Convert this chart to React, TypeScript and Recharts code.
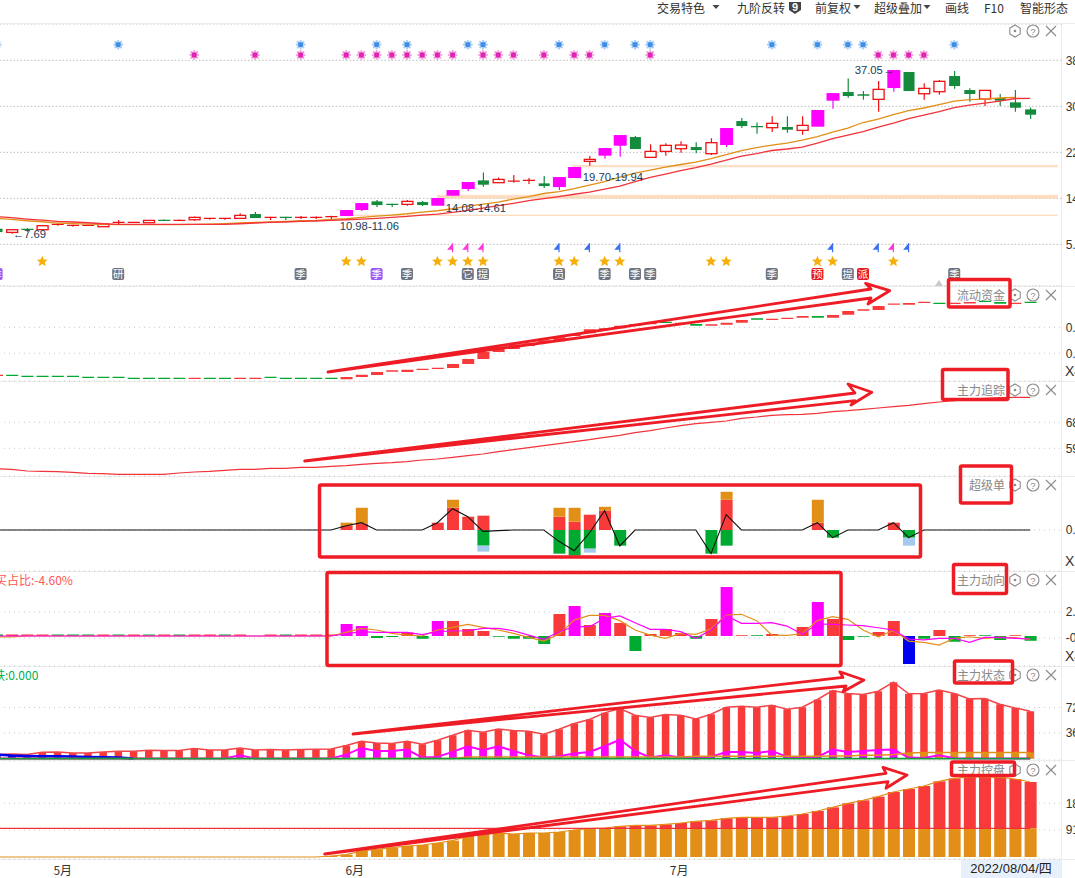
import React from 'react'
import { ComposedChart, Bar, Line, XAxis, YAxis, CartesianGrid, Cell, ReferenceArea, ReferenceDot } from 'recharts'

// price panel
const candleOpen = [8.61,7.95,8.49,8.43,9.27,9.15,9.15,8.97,9.62,9.68,9.68,10.10,10.04,10.22,10.40,10.40,10.46,11.24,10.58,10.64,10.58,10.58,10.70,10.88,11.96,13.51,12.97,12.97,13.39,12.73,14.53,15.72,17.27,16.86,17.03,17.15,16.74,16.08,17.69,20.68,21.70,23.49,25.04,21.40,22.47,22.95,23.25,22.06,23.61,27.91,26.90,26.72,26.84,26.24,26.90,31.56,33.11,32.58,31.80,33.83,36.70,32.81,33.17,35.98,33.47,31.86,32.04,31.26,30.00]
const candleClose = [8.01,8.43,8.37,9.15,9.39,9.21,9.21,9.45,9.74,9.74,10.10,10.04,10.10,10.64,10.46,10.46,11.00,10.52,10.64,10.58,10.64,10.64,10.76,11.96,13.21,12.85,12.91,13.51,12.85,14.11,15.54,16.98,16.50,17.45,17.15,17.27,16.26,17.87,19.67,21.04,23.07,25.40,22.89,22.47,23.55,23.61,22.71,24.03,26.66,27.02,26.78,27.50,26.36,27.14,29.89,32.93,32.40,32.46,33.59,37.06,33.29,33.77,35.03,34.19,32.76,33.41,31.56,30.30,29.05]
const candleHigh = [8.73,8.43,8.73,9.15,9.56,9.33,9.27,9.45,10.16,9.74,10.10,10.28,10.28,10.82,10.52,10.52,11.36,11.60,10.76,10.76,10.88,10.82,10.94,11.96,13.21,13.75,13.09,13.75,13.57,14.11,15.54,16.98,18.71,17.81,18.23,17.69,18.05,17.87,19.67,21.64,23.07,25.40,25.22,23.73,23.91,24.27,24.09,24.81,26.66,28.45,27.67,28.75,28.75,28.75,29.89,32.93,35.56,33.29,35.09,37.06,36.70,34.67,35.27,36.88,33.77,33.41,32.76,33.47,30.36]
const candleLow = [7.89,7.69,8.07,8.43,9.15,8.97,9.09,8.97,9.45,9.68,9.68,9.98,9.98,10.04,10.22,10.16,10.34,10.52,10.16,10.16,10.34,10.34,10.34,10.88,11.78,12.49,12.49,12.73,12.67,12.73,14.53,15.36,16.14,16.86,16.86,16.62,15.90,15.54,17.69,19.90,21.16,21.52,22.89,21.40,21.70,22.24,22.12,21.82,23.25,26.66,25.64,25.94,25.82,25.46,26.90,30.12,32.10,31.74,29.59,33.17,33.29,31.74,32.63,33.71,31.38,30.60,30.60,29.59,28.27]
const limitUpDays = [23,24,29,30,31,37,38,40,41,48,54,55,59]
const maRed = [10.76,10.58,10.34,10.16,9.93,9.81,9.68,9.50,9.39,9.39,9.39,9.39,9.39,9.39,9.39,9.39,9.50,9.63,9.75,9.81,9.93,9.99,10.11,10.22,10.34,10.47,10.65,10.82,11.06,11.24,11.54,11.90,12.32,12.73,13.16,13.63,14.02,14.38,14.79,15.18,15.72,16.26,17.07,17.81,18.41,19.04,19.58,20.20,20.92,21.64,22.09,22.63,22.90,23.25,23.97,24.78,25.40,26.03,26.84,27.56,28.36,28.99,29.62,30.33,30.78,31.14,31.50,31.95,31.98]
const maOrange = [10.47,10.29,10.04,9.86,9.63,9.54,9.45,9.39,9.36,9.36,9.36,9.36,9.36,9.39,9.45,9.54,9.63,9.72,9.81,9.93,10.04,10.11,10.29,10.40,10.65,10.88,11.06,11.29,11.60,11.83,12.19,12.67,13.03,13.39,13.93,14.38,14.92,15.27,15.81,16.44,17.07,17.87,18.59,19.13,19.67,20.12,20.56,21.19,21.91,22.63,23.16,23.61,23.97,24.51,25.14,25.94,26.66,27.65,28.27,29.08,29.80,30.25,30.87,31.50,31.77,31.86,32.04,32.16,null]
const priceTicks = [38.8,30.55,22.3,14.05,5.8]
const priceBands = [[10.98,11.06,22.8],[14.08,14.61,29],[19.70,19.94,37.9]]

const blueMarks = [0,8,20,25,27,31,32,37,40,42,43,51,54,56,57,63]
const pinkMarks = [13,17,20,23,24,25,26,27,28,29,30,32,33,34,36,38,39,43,58,59,60,61]
const starDays = [3,23,24,29,30,31,32,37,38,40,41,47,48,54,55,59]
const pinkFlags = [30,31,32,59]
const blueFlags = [37,39,41,55,58,60]
const badgeDays = [0,8,20,25,27,31,32,37,40,42,43,51,54,56,57,63]
const badgeText = ['季','研','季','季','季','它','提','员','季','季','季','季','预','提','派','季']
const badgeFill = ['#9b59f5','#6e7480','#6e7480','#9b59f5','#6e7480','#6e7480','#6e7480','#6e7480','#6e7480','#6e7480','#6e7480','#6e7480','#e8191c','#6e7480','#e8191c','#6e7480']

// 流动资金
const fundTop = [.4356,.4356,.4279,.4279,.4279,.4279,.4202,.4202,.4202,.4125,.4125,.4125,.4125,.4125,.4125,.4125,.4125,.4125,.4202,.4125,.4125,.4125,.4125,.4177,.4356,.4561,.4689,.4741,.4818,.4894,.5177,.5561,.61,.6382,.651,.6766,.6997,.7228,.7433,.7843,.792,.8125,.8228,.833,.8433,.8356,.8254,.8228,.8356,.8561,.8689,.8664,.874,.8869,.8869,.8946,.9253,.9382,.9638,.9843,.9869,.9971,.9894,.9894,.9946,1.0048,.9946,.9894,.9971]
const fundBottom = [.4254,.4254,.4177,.4177,.4177,.4177,.41,.41,.41,.4023,.4023,.4023,.4023,.4023,.4023,.4023,.4023,.4023,.41,.4023,.4023,.4023,.4023,.3997,.4177,.433,.4587,.4561,.4715,.4792,.4869,.5177,.5561,.61,.6331,.6561,.6792,.692,.733,.7535,.7818,.792,.8125,.8228,.833,.8253,.8125,.8125,.8202,.8356,.8587,.8561,.8638,.874,.874,.874,.8971,.9279,.933,.974,.974,.9869,.9792,.9792,.9843,.9946,.9818,.9792,.9869]
const fundGreenDays = [1,2,3,4,5,6,7,8,9,10,11,12,14,15,18,19,20,21,22,44,46,50,54,62,65,66,68]

// 主力追踪
const trackLine = [52.44,52.21,51.63,51.52,51.4,51.17,50.83,50.71,50.48,50.48,50.48,50.48,50.94,51.29,51.52,51.87,52.21,52.21,52.56,52.56,52.9,52.9,53.25,53.48,53.94,54.29,54.52,54.87,55.44,55.79,56.37,56.94,57.52,58.33,59.02,59.71,60.41,61.1,61.79,62.48,63.29,63.98,64.91,65.6,66.52,67.33,68.02,68.48,68.95,69.87,70.33,70.91,71.14,71.25,71.6,72.18,72.52,72.98,73.45,73.91,74.37,74.95,75.52,75.99,76.45,76.79,77.02,77.14,77.14]

// 超级单, [day, value]
const superRed = [[23,.6],[24,1],[29,1.1],[30,3.35],[31,2],[32,2.15],[37,2],[38,1.25],[39,2.3],[40,2.9],[48,4.55],[54,1.1],[59,1.1]]
const superOrange = [[23,.5],[24,2.35],[30,1.2],[37,1.35],[38,2.1],[40,.6],[48,1.2],[54,3.45]]
const superGreen = [[32,-2.35],[37,-3.55],[38,-3.85],[39,-2.8],[41,-2.35],[47,-3.55],[48,-2.35],[55,-1.15],[60,-1.15]]
const superBlue = [[32,-.9],[39,-.6],[60,-1.2]]
const superLine = [[23,.65],[24,1.1],[29,1.1],[30,3.2],[31,2],[32,-.2],[33,-.1],[37,-1.7],[38,-3.1],[39,-.45],[40,2.9],[41,-2.4],[47,-3.55],[48,2.3],[54,1.1],[55,-1.15],[59,1.1],[60,-1.15]]

// 主力动向
const trendRed = [[1,.12],[2,.12],[3,.12],[7,.12],[9,.12],[11,.12],[13,.12],[14,.12],[16,.12],[18,.12],[20,.12],[21,.12],[22,.12],[27,.3],[30,1.25],[31,.58],[32,.42],[37,1.83],[39,.92],[41,1.08],[43,.17],[44,.58],[45,.25],[47,1.42],[49,.06],[51,.17],[53,.75],[55,1.42],[58,.33],[59,1.25],[62,.5],[64,.06],[67,.06]]
const trendPink = [[23,1],[24,.83],[29,1.25],[38,2.5],[40,1.92],[48,4.08],[54,2.83]]
const trendGreen = [[0,.12],[4,.12],[5,.12],[6,.12],[8,.12],[10,.12],[12,.12],[15,.12],[19,.12],[25,-.17],[26,-.08],[28,-.22],[33,-.06],[34,-.22],[35,-.22],[36,-.67],[42,-1.25],[46,-.22],[50,.06],[56,-.33],[57,-.06],[61,-.22],[63,-.47],[65,.06],[66,-.33],[68,-.39]]
const trendBlue = [[60,-2.33]]
const trendPinkLine = [0,0,0,0,0,0,0,0,0,0,0,0,0,0,0,0,0,0,0,0,0,0,0,.19,.36,.31,.31,.31,.11,.36,.42,.44,.64,.64,.44,.08,-.28,.36,.78,.78,1.47,1.67,1.11,.56,.56,.36,-.19,.5,1.69,1.06,1.06,1.11,.83,.14,1,.97,.92,.86,.69,.5,-.25,-.33,-.19,-.19,-.53,-.11,-.11,-.19,-.25]
const trendOrangeLine = [-.08,-.08,0,0,0,0,0,0,0,0,0,0,0,0,0,0,0,0,0,0,0,0,0,.31,.64,.5,.22,.08,0,.5,.72,.97,.72,.5,.22,-.11,-.42,.14,1.33,1.72,1.72,1.28,.5,.08,-.19,.22,.14,.58,1.75,1.81,1.28,.08,.06,.19,1.28,1.61,1.39,.5,-.06,.47,-.42,-.53,-.75,-.19,-.06,-.19,-.11,-.14,-.28]

// 主力状态
const stateRed = [5.6,6.6,5.6,8.9,9.4,8,8,9.4,10.3,10.3,11.8,11.3,11.3,14.1,12.2,12.2,15,12.2,12.7,12.2,12.7,13.2,13.6,18.3,24.4,22.1,21.2,24.4,20.2,25.9,32.9,40,37.1,41.8,39.5,38.5,34.3,41.4,49.4,55,64.4,70.5,61.1,57.8,62,61.1,55.9,62.5,72.4,73.8,72.4,75.2,69.6,72.4,83.2,95.9,91.7,90.2,94.9,107.6,91.2,91.7,96.4,91.7,84.1,84.6,76.6,71.4,66.7]
const statePink = [0,0,0,0,0,0,0,0,0,0,0,0,0,0,0,0,4.7,0,0,0,0,0,0,5.6,15,10.8,10.8,12.7,1.4,2.4,9.4,17.4,11.8,17.4,10.8,4.7,1.4,3.3,7.1,9.4,17.4,26.8,10.8,1.4,4.7,1.4,0,2.4,9.4,9.4,8,10.8,2.4,.9,2.4,12.7,9.4,10.8,12.2,12.7,1.4,.9,4.7,.5,0,0,0,0,0]
const stateBlue = [5.6,4.2,3.8,3.3,3.3,2.8,2.4,1.9,1.4,0]
const stateOrange = [0,0,0,0,0,0,0,0,0,0,0,0,0,0,0,0,0,0,0,0,0,0,0,0,0,0,0,0,0,0,0,2.4,2.4,2.4,2.4,2.4,2.4,2.4,2.4,2.4,2.4,2.4,2.4,2.4,2.4,2.4,3.3,3.3,3.3,3.3,3.3,3.3,3.3,3.3,3.3,3.8,3.8,4.7,4.7,5.6,8,8.5,8.5,8.5,8.5,8.5,8.5,8.5,8.5]
const statePurpleDays = [36,37,38,39,40,41,42,43,44,45,46,47,48,49,50,51,52,53,54,55,56,57,58,59]
const stateOrangeBarDays = [60,61,62,63,64,65,66,67,68]

// 主力控盘
const holdTotal = [0,0,0,0,0,0,0,0,0,0,0,0,0,0,0,0,0,0,0,0,0,0,3.4,7.9,20.4,26.1,31.7,37.4,40.8,47.6,55.5,71.4,77.1,81.6,78.2,81.6,81.6,85,91.8,96.3,98.6,104.3,107.7,107.7,111.1,115.6,121.3,124.7,131.5,134.9,134.9,134.9,139.4,146.2,156.4,168.9,182.5,192.7,205.1,221,231.2,241.4,257.3,267.5,272,272,270.9,265.2,255]
const holdLevel = 97.6

const monthTicks = [4.35,23.56,44.9]
const monthLabels = ['5月','6月','7月']

const lookup = (list: number[][], i: number) => {
  const hit = list.find(p => p[0] === i)
  return hit ? hit[1] : 0
}

const table = candleOpen.map((open, i) => ({
  i,
  open,
  close: candleClose[i],
  range: [candleLow[i], candleHigh[i]],
  limitUp: limitUpDays.includes(i),
  maRed: maRed[i],
  maOrange: maOrange[i],
  blue: blueMarks.includes(i) ? 41.6 : null,
  pink: pinkMarks.includes(i) ? 39.75 : null,
  star: starDays.includes(i) ? 2.76 : null,
  flag: pinkFlags.includes(i) || blueFlags.includes(i) ? 5.2 : null,
  flagPink: pinkFlags.includes(i),
  badge: badgeDays.includes(i) ? 0.48 : null,
  badgeText: badgeText[badgeDays.indexOf(i)],
  badgeFill: badgeFill[badgeDays.indexOf(i)],
  fund: [fundBottom[i], fundTop[i]],
  track: trackLine[i],
  superRed: lookup(superRed, i),
  superOrange: lookup(superOrange, i),
  superGreen: lookup(superGreen, i),
  superBlue: lookup(superBlue, i),
  superLine: lookup(superLine, i),
  trendRed: lookup(trendRed, i),
  trendPink: lookup(trendPink, i),
  trendGreen: lookup(trendGreen, i),
  trendBlue: lookup(trendBlue, i),
  trendPinkLine: trendPinkLine[i],
  trendOrangeLine: trendOrangeLine[i],
  stateRed: stateRed[i],
  statePink: statePink[i],
  stateBlue: i < stateBlue.length ? stateBlue[i] : null,
  stateBlueBar: i < stateBlue.length ? stateBlue[i] : 0,
  stateOrange: stateOrange[i],
  stateOrangeBar: stateOrangeBarDays.includes(i) ? stateOrange[i] : 0,
  statePurple: statePurpleDays.includes(i) ? 1.4 : 0,
  stateBase: 0,
  hold: holdTotal[i],
  holdBase: Math.min(holdTotal[i], holdLevel),
  holdOver: Math.max(holdTotal[i] - holdLevel, 0),
  holdLevel,
}))

const RED = '#f93a3a'
const ORANGE = '#e28f17'
const GREEN = '#00a92f'
const PINK = '#ff00ff'
const TEXT_FONT = '"Liberation Sans", "Noto Sans CJK SC", sans-serif'
const CJK_FONT = '"Noto Sans CJK SC", sans-serif'

function Candle(props: any) {
  const { x, y, width, height, payload } = props
  const [low, high] = payload.range
  const unit = Math.abs(height) / (high - low)
  const yOf = (v: number) => y + (high - v) * unit
  const up = payload.close >= payload.open
  const color = payload.limitUp ? PINK : up ? '#ee1111' : '#148a3c'
  const top = yOf(Math.max(payload.open, payload.close))
  const bottom = yOf(Math.min(payload.open, payload.close))
  const mid = x + width / 2
  const hollow = up && !payload.limitUp
  const doji = bottom - top < 1.5
  return (
    <g>
      <line x1={mid} x2={mid} y1={y} y2={y + Math.abs(height)} stroke={color} strokeWidth={1.2} />
      {doji ? (
        <line x1={x} x2={x + width} y1={top} y2={top} stroke={color} strokeWidth={1.3} />
      ) : (
        <rect
          x={payload.limitUp ? x - 0.5 : x + 0.5}
          y={top}
          width={payload.limitUp ? width + 1 : width - 1}
          height={bottom - top}
          fill={hollow ? '#fff' : color}
          stroke={hollow ? color : 'none'}
          strokeWidth={1.3}
        />
      )}
    </g>
  )
}

const PETALS = [[3.9,0],[2.8,2.8],[0,3.9],[-2.8,2.8],[-3.9,0],[-2.8,-2.8],[0,-3.9],[2.8,-2.8]]

function PetalDot({ cx, cy, pale, core }: any) {
  return (
    <g>
      <circle cx={cx} cy={cy} r={3.2} fill={pale} />
      {PETALS.map(p => (
        <circle key={p.join()} cx={cx + p[0]} cy={cy + p[1]} r={1.1} fill={pale} />
      ))}
      <rect x={cx - 2.4} y={cy - 2.4} width={4.8} height={4.8} rx={1} fill={core} />
    </g>
  )
}

function SnowDot(props: any) {
  const { cx, cy, value, payload } = props
  if (value == null || cy == null) return <g key={payload.i} />
  return <g key={payload.i}><PetalDot cx={cx} cy={cy} pale="#a9cdf6" core="#3e8fe6" /></g>
}

function PinkDot(props: any) {
  const { cx, cy, value, payload } = props
  if (value == null || cy == null) return <g key={payload.i} />
  return <g key={payload.i}><PetalDot cx={cx} cy={cy} pale="#f3a0dc" core="#e024b4" /></g>
}

function StarDot(props: any) {
  const { cx, cy, value, payload } = props
  if (value == null || cy == null) return <g key={payload.i} />
  const pts = [[0,-5.5],[1.6,-1.8],[5.5,-1.6],[2.5,0.9],[3.5,4.8],[0,2.7],[-3.5,4.8],[-2.5,0.9],[-5.5,-1.6],[-1.6,-1.8]]
  return <polygon key={payload.i} points={pts.map(p => `${cx + p[0]},${cy + p[1]}`).join(' ')} fill="#f6ae08" />
}

function FlagDot(props: any) {
  const { cx, cy, value, payload } = props
  if (value == null || cy == null) return <g key={payload.i} />
  const c = payload.flagPink ? '#ff35dc' : '#3a6ff0'
  return (
    <g key={payload.i}>
      <line x1={cx} x2={cx} y1={cy - 4.5} y2={cy + 4.5} stroke={c} strokeWidth={1.2} />
      <polygon points={`${cx},${cy - 4.5} ${cx},${cy + 2} ${cx - 5.5},${cy + 2}`} fill={c} />
    </g>
  )
}

function BadgeDot(props: any) {
  const { cx, cy, value, payload } = props
  if (value == null || cy == null) return <g key={payload.i} />
  return (
    <g key={payload.i}>
      <rect x={cx - 6} y={cy - 6} width={12} height={12} rx={2} fill={payload.badgeFill} />
      <text x={cx} y={cy + 4} textAnchor="middle" fontSize={10.5} fill="#fff" fontFamily={CJK_FONT}>{payload.badgeText}</text>
    </g>
  )
}

function Panel({ top, height, domain, ticks, dash = '1 4', gridColor = '#c8c8c8', digits = 2, children, axisHeight = 0, barSize = 12 }: any) {
  return (
    <ComposedChart
      data={table}
      width={1085.7}
      height={height}
      margin={{ top: 0, right: 0, bottom: 0, left: 0 }}
      barSize={barSize}
      barGap={-barSize}
      stackOffset="sign"
      style={{ position: 'absolute', left: -10.7, top }}
    >
      <CartesianGrid vertical={false} stroke={gridColor} strokeDasharray={dash} />
      <XAxis
        dataKey="i"
        type="number"
        domain={[-0.5, 70.07]}
        allowDataOverflow
        hide={axisHeight === 0}
        height={axisHeight}
        ticks={monthTicks}
        interval={0}
        axisLine={false}
        tickLine={false}
        tickMargin={1}
        tickFormatter={(v: number) => monthLabels[monthTicks.indexOf(v)]}
        tick={{ fontSize: 12, fill: '#333', fontFamily: CJK_FONT }}
      />
      <YAxis
        orientation="right"
        width={13}
        type="number"
        domain={domain}
        allowDataOverflow
        ticks={ticks}
        interval={0}
        axisLine={false}
        tickLine={false}
        tickSize={0}
        tickMargin={4}
        tickFormatter={(v: number) => v.toFixed(digits)}
        tick={{ fontSize: 12, fill: '#333', fontFamily: TEXT_FONT }}
      />
      {children}
    </ComposedChart>
  )
}

const priceNotes = [
  { x: 1.06, y: 7.65, text: '←7.69' },
  { x: 22.57, y: 9.09, text: '10.98-11.06' },
  { x: 29.55, y: 12.3, text: '14.08-14.61' },
  { x: 38.56, y: 17.8, text: '19.70-19.94' },
  { x: 56.45, y: 37.05, text: '37.05→' },
]

const panelTitles = [
  { y: 295, text: '流动资金' },
  { y: 390, text: '主力追踪' },
  { y: 485, text: '超级单' },
  { y: 580, text: '主力动向' },
  { y: 675, text: '主力状态' },
  { y: 770, text: '主力控盘' },
]
const iconRows = [31, 295, 390, 485, 580, 675, 770]
const dividers = [23.5, 286, 381, 476, 571, 666, 760, 859]
const toolbar = [
  { x: 657, text: '交易特色' },
  { x: 737, text: '九阶反转' },
  { x: 815, text: '前复权' },
  { x: 874, text: '超级叠加' },
  { x: 945, text: '画线' },
  { x: 984, text: 'F10' },
  { x: 1020, text: '智能形态' },
]
const toolbarCarets = [716, 857, 927]
const multipliers = [{ y: 371, text: 'X4' }, { y: 561, text: 'X1' }, { y: 656, text: 'X4' }]

const redBoxes = [
  [948.5, 279.5, 61.5, 27.5],
  [942.5, 369.5, 65.5, 30],
  [960.5, 466, 51, 37],
  [953.5, 564.5, 53, 29],
  [954.5, 661, 58, 22],
  [951.5, 762, 63, 13.5],
  [319.5, 485, 601, 72],
  [327, 572.5, 514, 93],
]
const redArrows = [
  '328,372 871,289 865.6,283.3 889.7,290.7 868,304 871,298',
  '304.7,461 855,393 848,384 871.8,392.3 851,405 855,400.7',
  '353,734 843,677.3 839.8,671.7 863.9,680 843,691.7 846,686',
  '324.7,854 886,773.3 883,767.3 907,775 886,788.3 888,781.7',
]

export default function App() {
  return (
    <div style={{ position: 'absolute', left: 0, top: 0, width: 1075, height: 878, overflow: 'hidden', background: '#fff' }}>
      {dividers.map(y => (
        <div key={y} style={{ position: 'absolute', left: 0, width: 1075, top: y - 0.5, height: 1, background: '#ececec' }} />
      ))}
      <div style={{ position: 'absolute', left: 1061, top: 24, width: 1, height: 854, background: '#ececec' }} />

      <Panel top={24} height={262} domain={[-1.66, 45.31]} ticks={priceTicks} dash="1.5 2" gridColor="#bdbdbd">
        {priceBands.map(b => (
          <ReferenceArea key={b[0]} x1={b[2]} x2={69.8} y1={b[0]} y2={b[1]} fill="#fcdcbf" fillOpacity={1} stroke="#fcdcbf" strokeWidth={0.8} />
        ))}
        <Bar dataKey="range" shape={<Candle />} isAnimationActive={false} />
        <Line dataKey="maOrange" stroke={ORANGE} strokeWidth={1.3} dot={false} isAnimationActive={false} />
        <Line dataKey="maRed" stroke="#f2333a" strokeWidth={1.3} dot={false} isAnimationActive={false} />
        <Line dataKey="blue" stroke="none" dot={<SnowDot />} isAnimationActive={false} />
        <Line dataKey="pink" stroke="none" dot={<PinkDot />} isAnimationActive={false} />
        <Line dataKey="star" stroke="none" dot={<StarDot />} isAnimationActive={false} />
        <Line dataKey="flag" stroke="none" dot={<FlagDot />} isAnimationActive={false} />
        <Line dataKey="badge" stroke="none" dot={<BadgeDot />} isAnimationActive={false} />
        {priceNotes.map(n => (
          <ReferenceDot
            key={n.text}
            x={n.x}
            y={n.y}
            r={0}
            stroke="none"
            label={{ value: n.text, position: 'right', offset: 0, fontSize: 11.3, fill: '#1b3a57', fontFamily: TEXT_FONT }}
          />
        ))}
      </Panel>

      <Panel top={286} height={95} domain={[0.387, 1.118]} ticks={[0.8, 0.6]}>
        <Bar dataKey="fund" isAnimationActive={false}>
          {table.map(d => (
            <Cell key={d.i} fill={fundGreenDays.includes(d.i) ? GREEN : RED} />
          ))}
        </Bar>
      </Panel>

      <Panel top={381} height={95} domain={[49.9, 82.8]} ticks={[68.5, 59.5]}>
        <Line dataKey="track" stroke="#f2333a" strokeWidth={1.2} dot={false} isAnimationActive={false} />
      </Panel>

      <Panel top={476} height={95} domain={[-6.15, 8.1]} ticks={[0]}>
        <Bar dataKey="superRed" stackId="s" fill={RED} isAnimationActive={false} />
        <Bar dataKey="superOrange" stackId="s" fill={ORANGE} isAnimationActive={false} />
        <Bar dataKey="superGreen" stackId="s" fill={GREEN} isAnimationActive={false} />
        <Bar dataKey="superBlue" stackId="s" fill="#a6c9ef" isAnimationActive={false} />
        <Line dataKey="superLine" stroke="#111" strokeWidth={1.1} dot={false} isAnimationActive={false} />
      </Panel>

      <Panel top={571} height={95} domain={[-2.5, 5.42]} ticks={[2, -0.17]}>
        <Bar dataKey="trendRed" stackId="t" fill={RED} isAnimationActive={false} />
        <Bar dataKey="trendPink" stackId="t" fill={PINK} isAnimationActive={false} />
        <Bar dataKey="trendGreen" stackId="t" fill={GREEN} isAnimationActive={false} />
        <Bar dataKey="trendBlue" stackId="t" fill="#0000ee" isAnimationActive={false} />
        <Line dataKey="trendOrangeLine" stroke={ORANGE} strokeWidth={1.2} dot={false} isAnimationActive={false} />
        <Line dataKey="trendPinkLine" stroke={PINK} strokeWidth={1.2} dot={false} isAnimationActive={false} />
      </Panel>

      <Panel top={666} height={94} domain={[-2, 130.4]} ticks={[72, 36]} barSize={7.5}>
        <Bar dataKey="stateRed" fill={RED} isAnimationActive={false} />
        <Bar dataKey="statePink" fill={PINK} isAnimationActive={false} />
        <Bar dataKey="stateBlueBar" fill="#0000ee" isAnimationActive={false} />
        <Bar dataKey="statePurple" fill="#5a2fc0" isAnimationActive={false} />
        <Bar dataKey="stateOrangeBar" fill={ORANGE} isAnimationActive={false} />
        <Line dataKey="stateRed" stroke="#f2454a" strokeWidth={1.5} dot={false} isAnimationActive={false} />
        <Line dataKey="statePink" stroke={PINK} strokeWidth={2} dot={false} isAnimationActive={false} />
        <Line dataKey="stateBlue" stroke="#0000ee" strokeWidth={2.5} dot={false} isAnimationActive={false} />
        <Line dataKey="stateOrange" stroke={ORANGE} strokeWidth={1.5} dot={false} isAnimationActive={false} />
        <Line dataKey="stateBase" stroke="#149c3b" strokeWidth={1.8} dot={false} isAnimationActive={false} />
      </Panel>

      <Panel top={761} height={117} axisHeight={19} domain={[-6.8, 326.4]} ticks={[182.6, 91.8]}>
        <Bar dataKey="holdBase" stackId="h" fill={ORANGE} isAnimationActive={false} />
        <Bar dataKey="holdOver" stackId="h" fill={RED} isAnimationActive={false} />
        <Line dataKey="hold" stroke={ORANGE} strokeWidth={1.2} dot={false} isAnimationActive={false} />
        <Line dataKey="holdLevel" stroke="#f2333a" strokeWidth={1.2} dot={false} isAnimationActive={false} />
      </Panel>

      {toolbar.map(t => (
        <span key={t.text} style={{ position: 'absolute', left: t.x, top: 0, fontSize: 12, lineHeight: '15px', color: '#333', fontFamily: CJK_FONT }}>{t.text}</span>
      ))}
      {panelTitles.map(t => (
        <span key={t.text} style={{ position: 'absolute', right: 70, top: t.y - 8, fontSize: 12, lineHeight: '16px', color: '#888', fontFamily: CJK_FONT }}>{t.text}</span>
      ))}
      {multipliers.map(m => (
        <span key={m.y} style={{ position: 'absolute', left: 1065, top: m.y - 8, fontSize: 14, lineHeight: '16px', color: '#333', fontFamily: TEXT_FONT }}>{m.text}</span>
      ))}
      <span style={{ position: 'absolute', left: -17, top: 572, fontSize: 12, lineHeight: '15px', color: '#f55', fontFamily: CJK_FONT }}>主买占比:-4.60%</span>
      <span style={{ position: 'absolute', left: -7, top: 667, fontSize: 12, lineHeight: '15px', color: '#00b050', fontFamily: CJK_FONT }}>铁:0.000</span>
      <div style={{ position: 'absolute', left: 961, top: 860, width: 100, height: 18, background: '#e8f0fb', textAlign: 'center', fontSize: 13, lineHeight: '18px', color: '#222', fontFamily: TEXT_FONT }}>2022/08/04/四</div>

      <svg width={1075} height={878} style={{ position: 'absolute', left: 0, top: 0, pointerEvents: 'none' }}>
        {toolbarCarets.map(x => (
          <polygon key={x} points={`${x - 3.5},5 ${x + 3.5},5 ${x},9`} fill="#444" />
        ))}
        <path d="M789,2 h12 v8 l-6,4 l-6,-4 z" fill="#444" />
        <text x={795} y={11} textAnchor="middle" fontSize={11} fontWeight="bold" fill="#fff" fontFamily={TEXT_FONT}>9</text>
        <polygon points="935,286 943,286 939,280" fill="#c8c8c8" />
        {iconRows.map(y => (
          <g key={y} fill="none" stroke="#8a8a8a" strokeWidth={1.1}>
            <polygon points={`1015,${y - 6} 1020.2,${y - 3} 1020.2,${y + 3} 1015,${y + 6} 1009.8,${y + 3} 1009.8,${y - 3}`} />
            <circle cx={1015} cy={y} r={1.3} fill="#8a8a8a" stroke="none" />
            <circle cx={1033} cy={y} r={6} />
            <text x={1033} y={y + 3.5} textAnchor="middle" fontSize={9.5} fill="#8a8a8a" stroke="none" fontFamily={TEXT_FONT}>?</text>
            <path d={`M1046,${y - 5} L1056,${y + 5} M1056,${y - 5} L1046,${y + 5}`} />
          </g>
        ))}
        {redBoxes.map(b => (
          <rect key={b[0]} x={b[0]} y={b[1]} width={b[2]} height={b[3]} rx={1.5} fill="none" stroke="#ee1c25" strokeWidth={3.5} />
        ))}
        {redArrows.map(p => (
          <polygon key={p} points={p} fill="none" stroke="#ee1c25" strokeWidth={2.8} strokeLinejoin="round" />
        ))}
      </svg>
    </div>
  )
}
